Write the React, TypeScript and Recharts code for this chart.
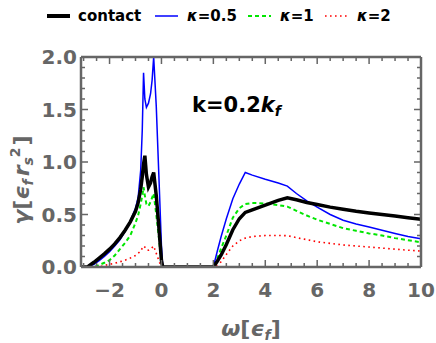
import React from "react";
import { LineChart, Line, XAxis, YAxis } from "recharts";

const omega = [
  -3.1, -2.85, -2.6, -2.4, -2.2, -2.0, -1.8, -1.6, -1.4, -1.2,
  -1.0, -0.9, -0.8, -0.74, -0.69, -0.64, -0.58, -0.5, -0.42, -0.36,
  -0.3, -0.2, -0.1, 0, 0.05, 1.0, 2.0, 2.15, 2.3, 2.5,
  2.75, 3.0, 3.23, 3.5, 4.0, 4.5, 4.85, 5.2, 5.6, 6.0,
  6.5, 7.0, 7.5, 8.0, 8.5, 9.0, 9.5, 10,
];
const contact = [
  0, 0, 0.045, 0.085, 0.125, 0.17, 0.22, 0.28, 0.35, 0.43,
  0.53, 0.61, 0.74, 0.86, 0.98, 1.06, 0.88, 0.76, 0.8, 0.86,
  0.9, 0.68, 0.38, 0.06, 0, 0, 0, 0.055, 0.115, 0.215,
  0.355, 0.46, 0.52, 0.545, 0.59, 0.635, 0.66, 0.64, 0.615, 0.595,
  0.57, 0.55, 0.53, 0.515, 0.5, 0.485, 0.47, 0.455,
];
const kappa05 = [
  0, 0, 0.025, 0.06, 0.1, 0.145, 0.2, 0.26, 0.34, 0.44,
  0.56, 0.66, 0.92, 1.3, 1.85, 1.6, 1.52, 1.56, 1.65, 1.78,
  2.0, 1.53, 0.87, 0.2, 0, 0, 0, 0.15, 0.29, 0.46,
  0.65, 0.79, 0.9, 0.875, 0.835, 0.8, 0.77, 0.7, 0.63, 0.57,
  0.5, 0.445, 0.41, 0.38, 0.35, 0.32, 0.29, 0.27,
];
const kappa1 = [
  0, 0, 0, 0.02, 0.04, 0.065, 0.11, 0.17, 0.23, 0.3,
  0.42, 0.49, 0.6, 0.68, 0.76, 0.68, 0.6, 0.58, 0.62, 0.66,
  0.7, 0.5, 0.28, 0.04, 0, 0, 0, 0.08, 0.18, 0.3,
  0.47, 0.56, 0.6, 0.61, 0.605, 0.59, 0.575, 0.535, 0.49, 0.45,
  0.41, 0.37, 0.345, 0.32, 0.3, 0.275, 0.255, 0.235,
];
const kappa2 = [
  0, 0, 0, 0, 0.015, 0.025, 0.035, 0.05, 0.065, 0.085,
  0.11, 0.13, 0.15, 0.18, 0.2, 0.19, 0.165, 0.16, 0.17, 0.185,
  0.2, 0.13, 0.06, 0, 0, 0, 0, 0.02, 0.05, 0.12,
  0.2, 0.25, 0.275, 0.29, 0.3, 0.3, 0.298, 0.28, 0.26, 0.24,
  0.225, 0.21, 0.2, 0.19, 0.18, 0.17, 0.16, 0.152,
];

const xMajor = [-2, 0, 2, 4, 6, 8, 10];
const xTicks = [
  -3, -2.5, -2, -1.5, -1, -0.5, 0, 0.5, 1, 1.5, 2, 2.5, 3, 3.5,
  4, 4.5, 5, 5.5, 6, 6.5, 7, 7.5, 8, 8.5, 9, 9.5, 10,
];
const yMajor = [0, 0.5, 1, 1.5, 2];
const yTicks = [
  0, 0.1, 0.2, 0.3, 0.4, 0.5, 0.6, 0.7, 0.8, 0.9, 1,
  1.1, 1.2, 1.3, 1.4, 1.5, 1.6, 1.7, 1.8, 1.9, 2,
];

const data = omega.map((w, i) => ({
  w,
  contact: contact[i],
  k05: kappa05[i],
  k1: kappa1[i],
  k2: kappa2[i],
}));

const FONT = "'DejaVu Sans', sans-serif";
const FRAME = "#666666";

const series = [
  { key: "contact", label: "contact", color: "#000000", width: 3.5, dash: undefined },
  { key: "k05", label: "0.5", color: "#0000ff", width: 1.5, dash: undefined },
  { key: "k1", label: "1", color: "#00e600", width: 2, dash: "4 3" },
  { key: "k2", label: "2", color: "#ff0000", width: 1.6, dash: "1.6 3.4" },
];

const fmtX = (v: number) => (v < 0 ? "\u2212" + Math.abs(v) : String(v));

// inward tick marks; majors get a label outside the frame
const BottomTick = (p: any) => {
  const v = p.payload.value;
  const major = xMajor.includes(v);
  const len = major ? 7 : 4;
  return (
    <g>
      <rect x={p.x - 0.75} y={p.y - len} width={1.5} height={len} fill={FRAME} />
      {major && (
        <text x={p.x} y={p.y + 30} textAnchor="middle" fill={FRAME} fontSize={20} fontWeight="bold" fontFamily={FONT}>
          {fmtX(v)}
        </text>
      )}
    </g>
  );
};

const TopTick = (p: any) => {
  const len = xMajor.includes(p.payload.value) ? 7 : 4;
  return <rect x={p.x - 0.75} y={p.y} width={1.5} height={len} fill={FRAME} />;
};

const LeftTick = (p: any) => {
  const v = p.payload.value;
  const major = yMajor.includes(v);
  const len = major ? 7 : 4;
  return (
    <g>
      <rect x={p.x} y={p.y - 0.75} width={len} height={1.5} fill={FRAME} />
      {major && (
        <text x={p.x - 4} y={p.y} dy="0.36em" textAnchor="end" fill={FRAME} fontSize={20} fontWeight="bold" fontFamily={FONT}>
          {v.toFixed(1)}
        </text>
      )}
    </g>
  );
};

const RightTick = (p: any) => {
  const len = yMajor.includes(p.payload.value) ? 7 : 4;
  return <rect x={p.x - len} y={p.y - 0.75} width={len} height={1.5} fill={FRAME} />;
};

const XTitle = (p: any) => {
  const vb = p.viewBox || { x: 81, width: 340, y: 267 };
  return (
    <text x={vb.x + vb.width / 2} y={336} textAnchor="middle" fill={FRAME} fontSize={22} fontWeight="bold" fontFamily={FONT}>
      <tspan fontStyle="italic">ω</tspan>[<tspan fontStyle="italic">ϵ</tspan>
      <tspan fontSize={14} fontStyle="italic" dy={4}>f</tspan>
      <tspan dy={-4}>]</tspan>
    </text>
  );
};

const YTitle = () => (
  <text
    transform="translate(29,180) rotate(-90)"
    textAnchor="middle"
    fill={FRAME}
    fontSize={22}
    fontWeight="bold"
    fontFamily={FONT}
  >
    <tspan fontStyle="italic">γ</tspan>[<tspan fontStyle="italic">ϵ</tspan>
    <tspan fontSize={14} fontStyle="italic" dy={4}>f</tspan>
    <tspan fontStyle="italic" dy={-4} dx={3}>r</tspan>
    <tspan fontSize={14} fontStyle="italic" dy={4}>s</tspan>
    <tspan fontSize={14} dy={-13}>2</tspan>
    <tspan dy={9} dx={2}>]</tspan>
  </text>
);

const legendLineX = [47, 155, 248, 325];
const legendTextX = [78, 187, 280, 357];

const frameLine = { stroke: FRAME, strokeWidth: 2.5 };

export default function App() {
  return (
    <div style={{ position: "absolute", left: 0, top: 0, width: 436, height: 343, background: "#fff" }}>
      <LineChart width={436} height={343} data={data} margin={{ top: 56, right: 14, bottom: 0, left: 0 }}>
        <XAxis
          dataKey="w"
          type="number"
          domain={[-3.1, 10]}
          allowDataOverflow
          ticks={xTicks}
          interval={0}
          height={76}
          tickSize={0}
          tickMargin={0}
          tickLine={false}
          axisLine={frameLine}
          tick={(p: any) => <BottomTick {...p} />}
          label={<XTitle />}
        />
        <XAxis
          xAxisId="top"
          orientation="top"
          dataKey="w"
          type="number"
          domain={[-3.1, 10]}
          allowDataOverflow
          ticks={xTicks}
          interval={0}
          height={1}
          tickSize={0}
          tickMargin={0}
          tickLine={false}
          axisLine={frameLine}
          tick={(p: any) => <TopTick {...p} />}
        />
        <YAxis
          type="number"
          domain={[0, 2]}
          allowDataOverflow
          ticks={yTicks}
          interval={0}
          width={81}
          tickSize={0}
          tickMargin={0}
          tickLine={false}
          axisLine={frameLine}
          tick={(p: any) => <LeftTick {...p} />}
          label={<YTitle />}
        />
        <YAxis
          yAxisId="right"
          orientation="right"
          type="number"
          domain={[0, 2]}
          allowDataOverflow
          ticks={yTicks}
          interval={0}
          width={1}
          tickSize={0}
          tickMargin={0}
          tickLine={false}
          axisLine={frameLine}
          tick={(p: any) => <RightTick {...p} />}
        />
        {[...series].reverse().map((s) => (
          <Line
            key={s.key}
            dataKey={s.key}
            type="linear"
            stroke={s.color}
            strokeWidth={s.width}
            strokeDasharray={s.dash}
            dot={false}
            activeDot={false}
            isAnimationActive={false}
          />
        ))}
      </LineChart>
      <svg width={436} height={343} style={{ position: "absolute", left: 0, top: 0, pointerEvents: "none" }}>
        {series.map((s, i) => (
          <g key={s.key}>
            <line
              x1={legendLineX[i]}
              x2={legendLineX[i] + 23}
              y1={16}
              y2={16}
              stroke={s.color}
              strokeWidth={s.key === "contact" ? 4 : s.width}
              strokeDasharray={s.dash}
            />
            <text x={legendTextX[i]} y={21} fontSize={15} fontWeight="bold" fontFamily={FONT} fill="#000">
              {s.key === "contact" ? (
                s.label
              ) : (
                <>
                  <tspan fontStyle="italic">κ</tspan>={s.label}
                </>
              )}
            </text>
          </g>
        ))}
        <text x={192} y={112} fontSize={21} fontWeight="bold" fontFamily={FONT} fill="#000">
          k=0.2<tspan fontStyle="italic">k</tspan>
          <tspan fontSize={14} fontStyle="italic" dy={4}>f</tspan>
        </text>
      </svg>
    </div>
  );
}
